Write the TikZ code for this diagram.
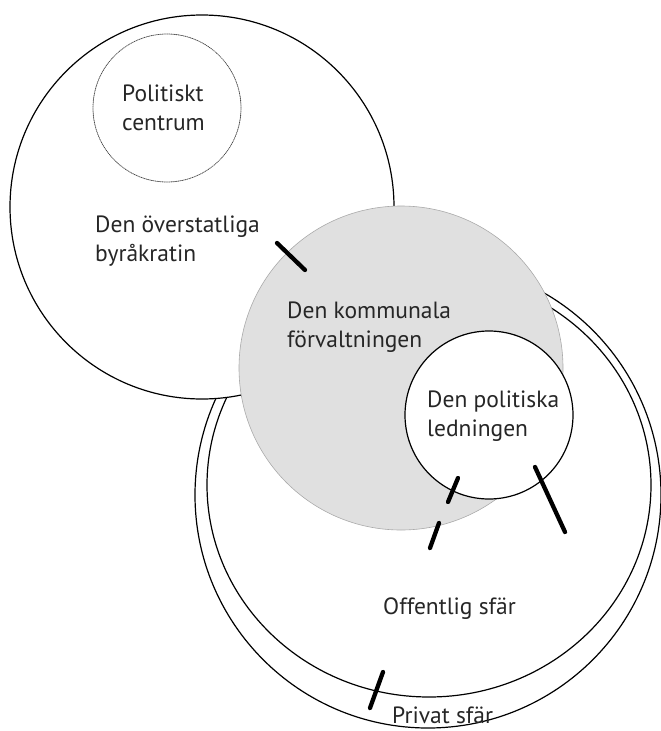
\documentclass[tikz,border=0pt]{standalone}
\usepackage{fontspec}
\setmainfont{PT Sans}
\definecolor{fyllgra}{HTML}{E0E0E0}
\definecolor{kantgra}{HTML}{AAAAAA}
\begin{document}
\begin{tikzpicture}[x=1pt, y=-1pt, font=\fontsize{23.5}{28.5}\selectfont, line join=round, line cap=round,
	ring/.style={draw=black, line width=1.2pt},
	streck/.style={line width=4.3pt},
	etikett/.style={align=left, anchor=base west, inner sep=0pt, text=black!85}]
	\useasboundingbox (0,0) rectangle (661,731);
	% sfärerna
	\draw[ring] (428,495) circle (233pt);
	\draw[ring] (429,485) ellipse (222pt and 212pt);
	\draw[ring, fill=white] (202,207) circle (192pt);
	\draw[draw=kantgra, line width=0.6pt, fill=fyllgra] (401,368) circle (162pt);
	\draw[ring, fill=white] (489,415) circle (84pt);
	\draw[densely dotted, line width=0.8pt, black!70] (167,108) circle (74pt);
	% gränser
	\draw[streck] (277,243)--(305,270);
	\draw[streck] (458,478)--(448,502);
	\draw[streck] (439,523)--(430,548);
	\draw[streck] (535,467)--(565,532);
	\draw[streck] (383,672)--(370,708);
	% texter
	\node[etikett] (centrum) at (122,130) {Politiskt\\centrum};
	\node[etikett] (byrakrati) at (95,261) {Den överstatliga\\byråkratin};
	\node[etikett] (kommun) at (287,347) {Den kommunala\\förvaltningen};
	\node[etikett] (ledning) at (427,436) {Den politiska\\ledningen};
	\node[etikett] (offentlig) at (383,614) {Offentlig sfär};
	\node[etikett] (privat) at (392,723) {Privat sfär};
\end{tikzpicture}
\end{document}
